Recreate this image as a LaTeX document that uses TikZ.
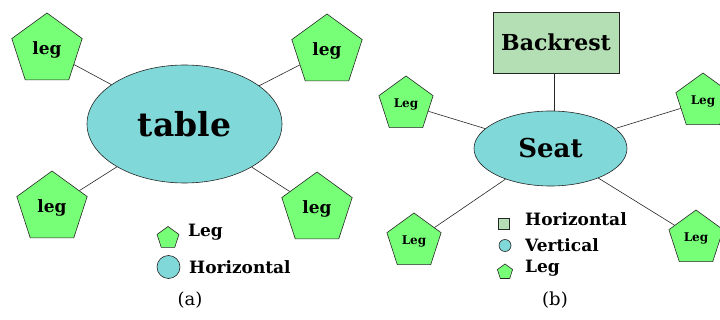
\documentclass[tikz,border=0pt]{standalone}
\usepackage{fontspec}
\newfontfamily\dv{DejaVu Serif}
\usetikzlibrary{shapes.geometric}
\definecolor{pgreen}{RGB}{120,255,120}
\definecolor{pcyan}{RGB}{128,216,216}
\definecolor{pbox}{RGB}{180,222,180}
\newcommand{\fs}[1]{\fontsize{#1}{#1}\selectfont}
\begin{document}
\begin{tikzpicture}[x=1pt,y=-1pt,
  leg/.style={regular polygon, regular polygon sides=5, draw=black!85, fill=pgreen, line width=0.6pt, inner sep=0pt},
  partell/.style={ellipse, draw=black!85, fill=pcyan, line width=0.6pt, inner sep=0pt},
  conn/.style={draw=black!85, line width=0.6pt},
  lbl/.style={font=\dv\bfseries\fs{17}, anchor=west, inner sep=0pt},
  captext/.style={font=\dv\fs{18}, inner sep=0pt}]
\useasboundingbox (0,0) rectangle (720,320);
\clip (0,0) rectangle (720,320);
% panel (a)
\node[partell, minimum width=195, minimum height=118, font=\dv\bfseries\fs{33}] (table) at (184.5,124) {table};
\node[leg, minimum size=74, font=\dv\bfseries\fs{17}] (la1) at (47,50) {leg};
\node[leg, minimum size=74, font=\dv\bfseries\fs{17}] (la2) at (327,51) {leg};
\node[leg, minimum size=74, font=\dv\bfseries\fs{17}] (la3) at (52,208) {leg};
\node[leg, minimum size=74, font=\dv\bfseries\fs{17}] (la4) at (317,209) {leg};
\draw[conn] (la1) -- (table);
\draw[conn] (la2) -- (table);
\draw[conn] (la3) -- (table);
\draw[conn] (la4) -- (table);
\node[leg, minimum size=23] (kla) at (168,238) {};
\node[lbl] (tla) at (188,232) {Leg};
\node[circle, draw=black!85, fill=pcyan, line width=0.6pt, minimum size=23, inner sep=0pt] (kha) at (168.5,267) {};
\node[lbl] (tha) at (189,267) {Horizontal};
\node[captext] (capa) at (190,300) {(a)};
% panel (b)
\node[draw=black!85, fill=pbox, line width=0.6pt, minimum width=126, minimum height=61, inner sep=0pt, font=\dv\bfseries\fs{22}] (back) at (556,42.5) {Backrest};
\node[partell, minimum width=153, minimum height=75, font=\dv\bfseries\fs{26}] (seat) at (550.5,148.5) {Seat};
\coordinate (bs) at ([xshift=-2pt]back.south);
\draw[conn] (bs) -- (bs |- seat.north);
\node[leg, minimum size=57, font=\dv\bfseries\fs{12}] (lb1) at (406,104.5) {Leg};
\node[leg, minimum size=57, font=\dv\bfseries\fs{12}] (lb2) at (703,101.5) {Leg};
\node[leg, minimum size=57, font=\dv\bfseries\fs{12}] (lb3) at (414,241.5) {Leg};
\node[leg, minimum size=57, font=\dv\bfseries\fs{12}] (lb4) at (696,238.5) {Leg};
\draw[conn] (lb1) -- (seat);
\draw[conn] (lb2) -- (seat);
\draw[conn] (lb3) -- (seat);
\draw[conn] (lb4) -- (seat);
\node[draw=black!85, fill=pbox, line width=0.6pt, minimum size=11, inner sep=0pt] (khb) at (504,223.5) {};
\node[lbl] (thb) at (525,219) {Horizontal};
\node[circle, draw=black!85, fill=pcyan, line width=0.6pt, minimum size=12, inner sep=0pt] (kvb) at (505,245.5) {};
\node[lbl] (tvb) at (525,245) {Vertical};
\node[leg, minimum size=16] (klb) at (505,272) {};
\node[lbl] (tlb) at (525,268) {Leg};
\node[captext] (capb) at (555,300) {(b)};
\end{tikzpicture}
\end{document}
